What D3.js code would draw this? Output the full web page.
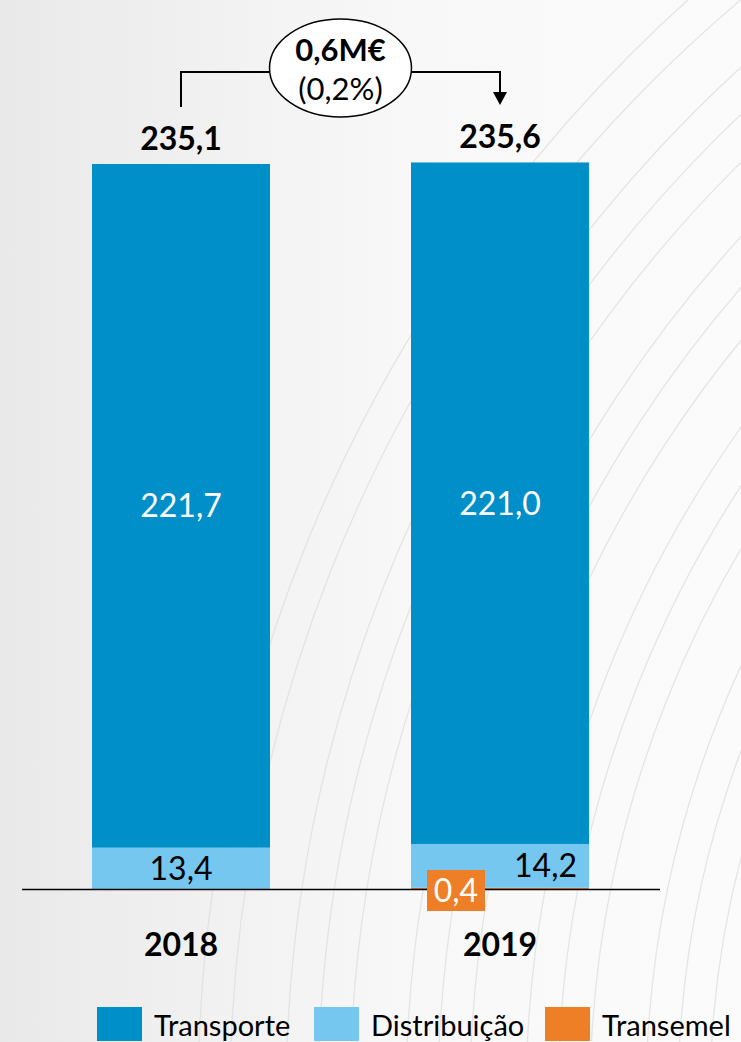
<!DOCTYPE html>
<html>
<head>
<meta charset="utf-8">
<script src="https://cdn.jsdelivr.net/npm/d3@7"></script>
<style>
  html, body { margin: 0; padding: 0; background: #f3f3f3; }
  svg { display: block; font-family: Lato, 'Open Sans', sans-serif; }
</style>
</head>
<body>
<div id="chart"></div>
<script>
const years = ['2018', '2019'];
const transporte = [221.7, 221.0];
const distribuicao = [13.4, 14.2];
const transemel = [0, 0.4];
const seriesNames = ['Transporte', 'Distribuição', 'Transemel'];
const seriesColors = ['#008fc9', '#76c7f0', '#ee7f27'];
const changeLabel = '0,6M€';
const changePct = '(0,2%)';

const width = 741, height = 1042;
const fmt = v => d3.format('.1f')(v).replace('.', ',');

const svg = d3.select('#chart').append('svg')
  .attr('width', width)
  .attr('height', height);

// background
const defs = svg.append('defs');
const grad = defs.append('linearGradient').attr('id', 'bg').attr('x1', 0).attr('x2', 1).attr('y1', 0).attr('y2', 0);
grad.append('stop').attr('offset', '0%').attr('stop-color', '#e9e9e9');
grad.append('stop').attr('offset', '55%').attr('stop-color', '#f8f8f8');
grad.append('stop').attr('offset', '100%').attr('stop-color', '#fbfbfb');
svg.append('rect').attr('width', width).attr('height', height).attr('fill', 'url(#bg)');

// decorative arcs
const arcs = svg.append('g').attr('fill', 'none').attr('stroke', '#dedede').attr('stroke-width', 1.3).attr('opacity', 0.75);
d3.range(0, 14).forEach(i => {
  arcs.append('circle')
    .attr('cx', 1670 + (i % 3) * 8)
    .attr('cy', 1100)
    .attr('r', 960 + i * 40);
});

// scales
const x = d3.scaleBand().domain(years).range([21.5, 659.5]).paddingInner(0.442).paddingOuter(0.221);
const y = d3.scaleLinear().domain([0, 250]).range([889, 889 - 250 * 725 / 235.1]);

const rows = years.map((yr, i) => ({
  year: yr,
  Transemel: transemel[i],
  'Distribuição': distribuicao[i],
  Transporte: transporte[i]
}));
const stack = d3.stack().keys(['Transemel', 'Distribuição', 'Transporte'])(rows);
const color = d3.scaleOrdinal().domain(seriesNames).range(seriesColors);

svg.append('g').selectAll('g')
  .data(stack)
  .join('g')
  .attr('fill', d => color(d.key))
  .selectAll('rect')
  .data(d => d)
  .join('rect')
  .attr('x', d => x(d.data.year))
  .attr('y', d => y(d[1]))
  .attr('width', x.bandwidth())
  .attr('height', d => y(d[0]) - y(d[1]));

// axis (baseline + year labels)
const axis = svg.append('g')
  .attr('transform', `translate(0,${y(0)})`)
  .call(d3.axisBottom(x).tickSize(0).tickSizeOuter(0).tickPadding(44));
axis.select('.domain').attr('stroke', '#000').attr('stroke-width', 1.5);
axis.selectAll('text')
  .attr('fill', '#000')
  .style('font-family', 'Lato, sans-serif')
  .style('font-size', '32px')
  .style('font-weight', 'bold');

// segment labels
const labels = svg.append('g').style('font-size', '32px');
rows.forEach((r, i) => {
  const cx = x(r.year) + x.bandwidth() / 2;
  const b0 = r.Transemel + r['Distribuição'];
  labels.append('text')
    .attr('x', cx)
    .attr('y', (y(b0) + y(b0 + r.Transporte)) / 2)
    .attr('dy', '0.36em')
    .attr('text-anchor', 'middle')
    .attr('fill', '#fff')
    .text(fmt(r.Transporte));
  const d0 = r.Transemel;
  labels.append('text')
    .attr('x', r.Transemel > 0 ? x(r.year) + x.bandwidth() - 12 : cx)
    .attr('y', (y(d0) + y(d0 + r['Distribuição'])) / 2)
    .attr('dy', '0.36em')
    .attr('text-anchor', r.Transemel > 0 ? 'end' : 'middle')
    .attr('fill', '#000')
    .text(fmt(r['Distribuição']));
  if (r.Transemel > 0) {
    const bx = x(r.year) + 16;
    labels.append('rect')
      .attr('x', bx).attr('y', y(0) - 19)
      .attr('width', 58).attr('height', 41)
      .attr('fill', color('Transemel'));
    labels.append('text')
      .attr('x', bx + 29)
      .attr('y', y(0) + 1.5)
      .attr('dy', '0.36em')
      .attr('text-anchor', 'middle')
      .attr('fill', '#fff')
      .text(fmt(r.Transemel));
  }
  // totals
  const total = r.Transemel + r['Distribuição'] + r.Transporte;
  labels.append('text')
    .attr('x', cx)
    .attr('y', y(total) - 14)
    .attr('text-anchor', 'middle')
    .attr('fill', '#000')
    .style('font-weight', 'bold')
    .text(fmt(total));
});

// change annotation
const c0 = x(years[0]) + x.bandwidth() / 2;
const c1 = x(years[1]) + x.bandwidth() / 2;
const ex = (c0 + c1) / 2, ey = 68, rx = 71, ry = 49;
const lineY = 72;
const ann = svg.append('g').attr('stroke', '#000').attr('stroke-width', 2).attr('fill', 'none');
ann.append('path').attr('d', `M${c0},107V${lineY}H${ex - rx + 1}`);
ann.append('path').attr('d', `M${ex + rx - 1},${lineY}H${c1}V94`);
svg.append('path')
  .attr('d', `M${c1 - 7},92L${c1 + 7},92L${c1},105Z`)
  .attr('fill', '#000');
ann.append('ellipse')
  .attr('cx', ex).attr('cy', ey).attr('rx', rx).attr('ry', ry)
  .attr('fill', '#fff').attr('stroke-width', 1.5);
svg.append('text')
  .attr('x', ex).attr('y', 61)
  .attr('text-anchor', 'middle')
  .style('font-size', '31px').style('font-weight', 'bold')
  .text(changeLabel);
svg.append('text')
  .attr('x', ex).attr('y', 100)
  .attr('text-anchor', 'middle')
  .style('font-size', '31px')
  .text(changePct);

// legend
const legendX = [97, 314, 545];
const legend = svg.append('g');
seriesNames.forEach((name, i) => {
  legend.append('rect')
    .attr('x', legendX[i]).attr('y', 1007)
    .attr('width', 45).attr('height', 34)
    .attr('fill', color(name));
  legend.append('text')
    .attr('x', legendX[i] + 57).attr('y', 1036)
    .style('font-size', '29px')
    .attr('fill', '#000')
    .text(name);
});
</script>
</body>
</html>
